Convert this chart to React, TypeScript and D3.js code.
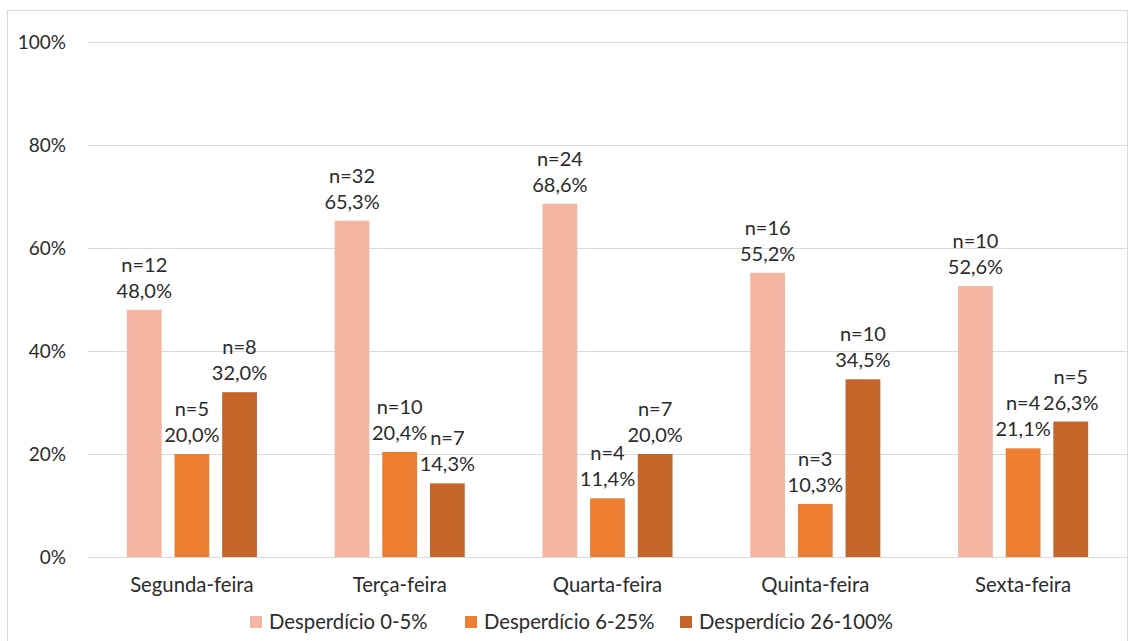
import React from "react";
import * as d3 from "d3";

const categories = ["Segunda-feira", "Terça-feira", "Quarta-feira", "Quinta-feira", "Sexta-feira"];
const seriesNames = ["Desperdício 0-5%", "Desperdício 6-25%", "Desperdício 26-100%"];
const seriesColors = ["#F4B6A3", "#ED7D31", "#C4652A"];
const pctLow = [48.0, 65.3, 68.6, 55.2, 52.6];
const pctMid = [20.0, 20.4, 11.4, 10.3, 21.1];
const pctHigh = [32.0, 14.3, 20.0, 34.5, 26.3];
const nLow = [12, 32, 24, 16, 10];
const nMid = [5, 10, 4, 3, 4];
const nHigh = [8, 7, 7, 10, 5];
const yTicks = [0, 20, 40, 60, 80, 100];

const W = 1131;
const H = 641;
const FONT = "Lato, 'Open Sans', sans-serif";

export default function App() {
  const left = 88, right = 1127, top = 42, bottom = 557;
  const x0 = d3.scaleBand<string>().domain(categories).range([left, right]).paddingInner(0.374).paddingOuter(0.187);
  const x1 = d3.scaleBand<string>().domain(seriesNames).range([0, x0.bandwidth()]).paddingInner(0.27);
  const y = d3.scaleLinear().domain([0, 100]).range([bottom, top]);
  const pcts = [pctLow, pctMid, pctHigh];
  const ns = [nLow, nMid, nHigh];
  const fmt = (v: number) => v.toFixed(1).replace(".", ",") + "%";
  const legendX = [250, 465, 680];

  return (
    <svg width={W} height={H} style={{ position: "absolute", left: 0, top: 0 }} fontFamily={FONT}>
      <rect x={0} y={0} width={W} height={H} fill="#fff" />
      <rect x={7.5} y={10.5} width={1120} height={640} fill="none" stroke="#d9d9d9" />
      {yTicks.map((t) => (
        <g key={t}>
          <line x1={left} x2={right} y1={Math.round(y(t)) + 0.5} y2={Math.round(y(t)) + 0.5} stroke="#d9d9d9" strokeWidth={1.2} />
          <text x={66} y={y(t)} dy="0.36em" textAnchor="end" fontSize={19} fill="#2b2b2b">{t}%</text>
        </g>
      ))}
      {categories.map((c, i) => (
        <g key={c} transform={`translate(${x0(c)},0)`}>
          {seriesNames.map((s, j) => {
            const v = pcts[j][i];
            const bx = x1(s)!;
            const bw = x1.bandwidth();
            const by = y(v);
            return (
              <g key={s}>
                <rect x={bx} y={by} width={bw} height={bottom - by} fill={seriesColors[j]} />
                <text x={bx + bw / 2} y={by - 12} textAnchor="middle" fontSize={20} fill="#2b2b2b">{fmt(v)}</text>
                <text x={bx + bw / 2} y={by - 38} textAnchor="middle" fontSize={20} fill="#2b2b2b">n={ns[j][i]}</text>
              </g>
            );
          })}
          <text x={x0.bandwidth() / 2} y={592} textAnchor="middle" fontSize={20.3} fill="#2b2b2b">{c}</text>
        </g>
      ))}
      {seriesNames.map((s, j) => (
        <g key={s}>
          <rect x={legendX[j]} y={616} width={12} height={12} fill={seriesColors[j]} />
          <text x={legendX[j] + 19} y={622} dy="0.36em" fontSize={20.3} fill="#2b2b2b">{s}</text>
        </g>
      ))}
    </svg>
  );
}
